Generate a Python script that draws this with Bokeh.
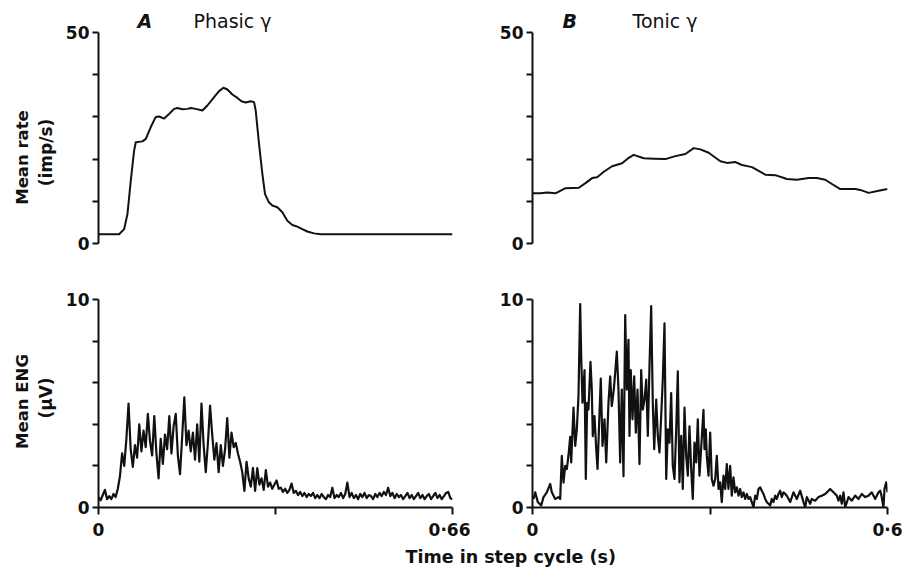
import numpy as np
from bokeh.plotting import figure
from bokeh.layouts import row, column
from bokeh.models import FixedTicker, Label, Range1d
from bokeh.embed import file_html
from bokeh.resources import INLINE

# ---------------- data ----------------
# A: phasic gamma, mean rate (imp/s) vs time in step cycle (s)
rate_a_t = [0.0, 0.0385, 0.0478, 0.054, 0.0602, 0.0664, 0.0695, 0.082, 0.0882, 0.0975,
            0.1068, 0.113, 0.1223, 0.1316, 0.141, 0.1472, 0.1565, 0.1658, 0.172, 0.1813,
            0.1937, 0.203, 0.2155, 0.2248, 0.2329, 0.2403, 0.2496, 0.259, 0.2664, 0.2745,
            0.2838, 0.29, 0.2931, 0.2993, 0.3055, 0.3105, 0.318, 0.3242, 0.3335, 0.3428,
            0.3521, 0.3614, 0.3707, 0.38, 0.3894, 0.4018, 0.4142, 0.66]
rate_a_v = [2.2, 2.2, 3.4, 7.0, 14.9, 22.0, 24.0, 24.2, 24.8, 27.6,
            30.0, 30.1, 29.6, 30.7, 31.9, 32.1, 31.8, 31.9, 32.1, 31.9,
            31.5, 32.7, 34.7, 36.1, 36.9, 36.5, 35.3, 34.5, 33.7, 33.4,
            33.7, 33.5, 31.5, 23.6, 16.5, 11.7, 9.7, 9.0, 8.6, 7.4,
            5.4, 4.4, 4.0, 3.4, 2.85, 2.4, 2.2, 2.2]

# B: tonic gamma, mean rate (imp/s)
rate_b_t = [0.0, 0.0135, 0.0248, 0.0388, 0.0557, 0.0783, 0.0895, 0.1008, 0.1092, 0.1205,
            0.1345, 0.1514, 0.1627, 0.1711, 0.188, 0.2049, 0.2246, 0.2415, 0.2584, 0.2725,
            0.2838, 0.2978, 0.3175, 0.3288, 0.3429, 0.3541, 0.371, 0.3935, 0.4104, 0.4301,
            0.447, 0.4667, 0.4808, 0.4948, 0.5061, 0.5202, 0.5455, 0.554, 0.568, 0.585, 0.6]
rate_b_v = [11.9, 11.9, 12.1, 11.9, 13.1, 13.2, 14.3, 15.5, 15.7, 17.0,
            18.3, 19.0, 20.3, 21.0, 20.2, 20.1, 20.0, 20.7, 21.2, 22.6,
            22.3, 21.5, 19.5, 19.1, 19.3, 18.6, 18.1, 16.3, 16.2, 15.3,
            15.1, 15.5, 15.5, 15.1, 14.1, 12.9, 12.9, 12.7, 12.0, 12.5, 12.9]

# A: mean ENG (uV), bins of 0.004 s from 0 to 0.66 s
eng_a_bin = 0.004
eng_a_v = [0.5, 0.35, 0.6, 0.85, 0.4, 0.55, 0.4, 0.65, 0.5, 0.9,
           1.5, 2.6, 2.0, 3.3, 5.0, 2.8, 1.95, 3.0, 2.4, 4.0,
           2.7, 3.7, 2.9, 4.5, 3.2, 2.5, 4.4, 2.6, 1.4, 3.3,
           2.1, 3.5, 2.8, 4.4, 2.6, 3.9, 4.5, 2.5, 1.6, 3.4,
           5.3, 3.0, 3.7, 2.7, 3.6, 2.3, 4.0, 2.2, 5.0, 3.0,
           1.7, 3.1, 4.9, 3.5, 2.3, 3.1, 1.7, 3.0, 2.0, 2.8,
           4.3, 2.4, 3.6, 2.9, 3.1, 2.6, 2.2, 1.7, 0.8, 2.2,
           1.4, 1.0, 1.9, 0.8, 1.9, 1.1, 1.4, 0.85, 1.8, 1.0,
           1.2, 0.9, 1.1, 1.3, 0.9, 0.95, 0.75, 0.9, 0.7, 0.85,
           1.15, 0.7, 0.8, 0.6, 0.75, 0.55, 0.7, 0.5, 0.65, 0.55,
           0.7, 0.45, 0.6, 0.45, 0.65, 0.5, 0.4, 0.6, 0.5, 0.95,
           0.45, 0.6, 0.5, 0.7, 0.45, 0.65, 1.2, 0.5, 0.7, 0.45,
           0.6, 0.4, 0.65, 0.5, 0.7, 0.45, 0.6, 0.55, 0.4, 0.65,
           0.5, 0.7, 0.55, 0.75, 0.6, 0.95, 0.55, 0.7, 0.45, 0.65,
           0.5, 0.6, 0.4, 0.55, 0.7, 0.45, 0.6, 0.4, 0.55, 0.7,
           0.45, 0.6, 0.4, 0.55, 0.65, 0.4, 0.55, 0.7, 0.45, 0.6,
           0.4, 0.55, 0.7, 0.75, 0.45, 0.4]

# B: mean ENG (uV)
eng_b_t = [0.0017, 0.0046, 0.0090, 0.0147, 0.0186, 0.0242, 0.0299, 0.0326, 0.0384, 0.0439,
           0.0468, 0.0495, 0.0524, 0.0553, 0.0580, 0.0608, 0.0637, 0.0654, 0.0693, 0.0722,
           0.0749, 0.0777, 0.0806, 0.0823, 0.0845, 0.0879, 0.0901, 0.0924, 0.0946, 0.0980,
           0.1002, 0.1019, 0.1048, 0.1077, 0.1099, 0.1127, 0.1154, 0.1183, 0.1217, 0.1246,
           0.1284, 0.1313, 0.1340, 0.1374, 0.1408, 0.1425, 0.1453, 0.1482, 0.1509, 0.1538,
           0.1567, 0.1594, 0.1622, 0.1639, 0.1661, 0.1690, 0.1719, 0.1746, 0.1775, 0.1808,
           0.1837, 0.1864, 0.1893, 0.1922, 0.1949, 0.1977, 0.2006, 0.2033, 0.2057, 0.2091,
           0.2118, 0.2146, 0.2175, 0.2202, 0.2231, 0.2260, 0.2287, 0.2315, 0.2344, 0.2371,
           0.2400, 0.2429, 0.2456, 0.2484, 0.2513, 0.2540, 0.2569, 0.2598, 0.2625, 0.2653,
           0.2682, 0.2709, 0.2738, 0.2767, 0.2794, 0.2822, 0.2890, 0.2907, 0.2929, 0.2946,
           0.2975, 0.3003, 0.3030, 0.3059, 0.3088, 0.3115, 0.3144, 0.3172, 0.3199, 0.3228,
           0.3257, 0.3284, 0.3312, 0.3341, 0.3368, 0.3397, 0.3426, 0.3453, 0.3482, 0.3510,
           0.3537, 0.3566, 0.3595, 0.3622, 0.3651, 0.3679, 0.3706, 0.3735, 0.3764, 0.3791,
           0.3820, 0.3848, 0.3875, 0.3904, 0.3933, 0.3960, 0.3989, 0.4017, 0.4044, 0.4073,
           0.4102, 0.4129, 0.4158, 0.4186, 0.4213, 0.4242, 0.4298, 0.4355, 0.4411, 0.4467,
           0.4524, 0.4580, 0.4609, 0.4636, 0.4693, 0.4720, 0.4778, 0.4834, 0.4889, 0.4947,
           0.5003, 0.5031, 0.5087, 0.5143, 0.5172, 0.5200, 0.5227, 0.5256, 0.5285, 0.5341,
           0.5396, 0.5454, 0.5510, 0.5565, 0.5623, 0.5679, 0.5734, 0.5792, 0.5848, 0.5876,
           0.5898, 0.5932, 0.5949, 0.5978, 0.6000]
eng_b_v = [0.41, 0.73, 0.26, 0.10, 0.50, 0.73, 1.13, 0.73, 0.41, 0.50,
           0.41, 2.48, 1.20, 2.00, 1.85, 2.50, 3.40, 2.17, 4.80, 2.96,
           3.76, 5.35, 9.78, 7.26, 5.04, 6.60, 1.37, 5.03, 4.71, 7.00,
           5.67, 3.43, 4.40, 2.80, 1.85, 4.08, 6.20, 2.96, 4.24, 2.17,
           5.03, 6.30, 4.87, 5.67, 6.86, 7.50, 5.67, 2.17, 5.67, 1.50,
           9.25, 5.67, 8.06, 3.44, 6.60, 4.24, 6.30, 3.60, 5.67, 2.09,
           6.60, 4.71, 5.19, 6.15, 3.44, 6.78, 9.68, 5.03, 2.80, 5.19,
           3.44, 2.65, 4.40, 6.15, 8.85, 1.37, 3.76, 3.12, 5.50, 2.00,
           1.37, 3.76, 6.54, 1.21, 3.44, 0.89, 4.80, 2.48, 1.53, 3.90,
           1.85, 0.41, 3.12, 2.17, 4.24, 1.53, 4.70, 2.80, 3.76, 2.48,
           1.53, 3.60, 1.37, 1.05, 1.37, 2.48, 0.89, 1.21, 0.26, 1.53,
           0.89, 2.09, 0.89, 2.00, 0.57, 1.45, 0.73, 0.97, 0.57, 0.89,
           0.50, 0.73, 0.41, 0.65, 0.41, 0.50, 0.26, 0.02, 0.57, 0.41,
           0.89, 0.97, 0.81, 0.65, 0.41, 0.26, 0.18, 0.10, 0.41, 0.26,
           0.57, 0.41, 0.65, 0.81, 0.50, 0.73, 0.57, 0.26, 0.73, 0.41,
           0.81, 0.26, 0.00, 0.50, 0.18, 0.41, 0.33, 0.50, 0.57, 0.65,
           0.81, 0.89, 0.73, 0.57, 0.33, 0.57, 0.18, 0.73, 0.00, 0.50,
           0.33, 0.57, 0.41, 0.65, 0.50, 0.57, 0.73, 0.41, 0.73, 0.81,
           0.57, 0.00, 0.89, 1.21, 0.73]

rate_ticks = [0, 10, 20, 30, 40, 50]
rate_tick_labels = ["0", "", "", "", "", "50"]
eng_ticks = [0, 2, 4, 6, 8, 10]
eng_tick_labels = ["0", "", "", "", "", "10"]
time_ticks_a = [0, 0.33, 0.66]
time_tick_labels_a = ["0", "", "0·66"]
time_ticks_b = [0, 0.3, 0.6]
time_tick_labels_b = ["0", "", "0·6"]

panel_letters = ["A", "B"]
panel_titles = ["Phasic γ", "Tonic γ"]
rate_label = ["Mean rate", "(imp/s)"]
eng_label = ["Mean ENG", "(μV)"]
time_label = "Time in step cycle (s)"

# ---------------- styling ----------------
FONT = "DejaVu Sans"
INK = "#111111"
RATE_TOP = 57.58   # rate panels' frame reaches above 50 to hold the panel titles
TITLE_Y = 52.84    # anchor of the panel titles, in rate units


def style_axis(ax, ticks, labels, tick_out, standoff, bounds):
    ax.ticker = FixedTicker(ticks=ticks)
    ax.major_label_overrides = {t: l for t, l in zip(ticks, labels)}
    ax.bounds = bounds
    ax.axis_line_width = 2
    ax.axis_line_color = INK
    ax.major_tick_line_width = 2
    ax.major_tick_line_color = INK
    ax.major_tick_out = tick_out
    ax.major_tick_in = 0
    ax.minor_tick_line_color = None
    ax.major_label_text_font = FONT
    ax.major_label_text_font_size = "17px"
    ax.major_label_text_font_style = "bold"
    ax.major_label_text_color = INK
    ax.major_label_standoff = standoff


def panel(width, height, bl, br, bt, bb, xmax, ymax, ytop, yticks, ylabels,
          xticks=None, xlabels=None):
    p = figure(width=width, height=height,
               x_range=Range1d(0, xmax), y_range=Range1d(0, ytop),
               output_backend="svg", toolbar_location=None,
               x_axis_location="below" if xticks is not None else None,
               y_axis_location="left",
               min_border_left=bl, min_border_right=br,
               min_border_top=bt, min_border_bottom=bb)
    p.outline_line_color = None
    p.grid.visible = False
    p.background_fill_color = "white"
    p.border_fill_color = "white"
    style_axis(p.yaxis[0], yticks, ylabels, 6, 3, (0, ymax))
    if xticks is not None:
        style_axis(p.xaxis[0], xticks, xlabels, 7, 5, (0, xmax))
    return p


def blank(width, height):
    p = figure(width=width, height=height,
               x_range=Range1d(0, width), y_range=Range1d(0, height),
               output_backend="svg", toolbar_location=None,
               x_axis_location=None, y_axis_location=None, min_border=0)
    p.outline_line_color = None
    p.grid.visible = False
    return p


def add_text(p, x, y, text, size, style, angle=0.0, align="left", dx=0):
    p.add_layout(Label(x=x, y=y, x_offset=dx, text=text,
                       text_font=FONT, text_font_size=size,
                       text_font_style=style, text_color=INK, angle=angle,
                       text_align=align, text_baseline="alphabetic"))


# top row
top_a = panel(410, 270, 38, 18, 0, 27, 0.66, 50, RATE_TOP, rate_ticks, rate_tick_labels)
top_a.line(rate_a_t, rate_a_v, line_color=INK, line_width=2, line_join="round")
add_text(top_a, 0, TITLE_Y, panel_letters[0], "19px", "bold italic", dx=39)
add_text(top_a, 0, TITLE_Y, panel_titles[0], "19px", "normal", dx=95)

top_b = panel(436, 270, 62, 19, 0, 27, 0.6, 50, RATE_TOP, rate_ticks, rate_tick_labels)
top_b.line(rate_b_t, rate_b_v, line_color=INK, line_width=2, line_join="round")
add_text(top_b, 0, TITLE_Y, panel_letters[1], "19px", "bold italic", dx=30)
add_text(top_b, 0, TITLE_Y, panel_titles[1], "19px", "normal", dx=100)

# bottom row
eng_a_t = np.arange(len(eng_a_v)) * eng_a_bin
bot_a = panel(410, 272, 38, 18, 29, 33, 0.66, 10, 10, eng_ticks, eng_tick_labels,
              time_ticks_a, time_tick_labels_a)
bot_a.line(eng_a_t, eng_a_v, line_color=INK, line_width=2.2, line_join="round")

bot_b = panel(436, 272, 62, 19, 29, 33, 0.6, 10, 10, eng_ticks, eng_tick_labels,
              time_ticks_b, time_tick_labels_b)
bot_b.line(eng_b_t, eng_b_v, line_color=INK, line_width=2.2, line_join="round")

# y-axis titles strip (left), x-axis title strip (bottom)
ylab = blank(60, 542)
add_text(ylab, 22, 385, rate_label[0], "16.5px", "bold", np.pi / 2, "center")
add_text(ylab, 45.5, 390, rate_label[1], "17px", "bold", np.pi / 2, "center")
add_text(ylab, 22, 141, eng_label[0], "16.5px", "bold", np.pi / 2, "center")
add_text(ylab, 45.5, 144.5, eng_label[1], "17px", "bold", np.pi / 2, "center")

xlab = blank(906, 27)
add_text(xlab, 405, 13, time_label, "17.5px", "bold")

panels = column(row(top_a, top_b, spacing=0), row(bot_a, bot_b, spacing=0), spacing=0)
layout = column(row(ylab, panels, spacing=0), xlab, spacing=0)

open("out.html", "w").write(file_html(layout, INLINE, "Phasic and tonic gamma"))
